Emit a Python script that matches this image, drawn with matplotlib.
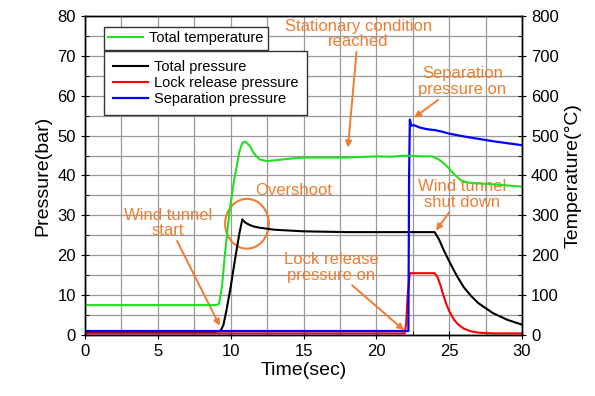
import numpy as np
import matplotlib.pyplot as plt
from matplotlib.patches import Ellipse
from matplotlib.ticker import MultipleLocator

plt.rcParams['font.family'] = ['Liberation Sans', 'DejaVu Sans']

# total pressure (bar)
t_tot = [0, 9.0, 9.3, 9.5, 9.7, 10.0, 10.3, 10.6, 10.8, 11.0, 11.3, 11.6, 12.0, 13.0, 15.0, 18.0, 20.0, 22.0, 24.0,
         24.3, 24.6, 25.0, 25.5, 26.0, 26.5, 27.0, 28.0, 29.0, 30.0]
p_tot = [0.8, 0.8, 1.0, 2.5, 6.0, 12.0, 19.0, 25.5, 29.0, 28.2, 27.6, 27.2, 26.9, 26.4, 26.0, 25.8, 25.8, 25.8, 25.8,
         24.0, 21.5, 18.5, 15.0, 12.0, 9.8, 8.0, 5.5, 3.8, 2.6]

# lock release pressure (bar)
t_lock = [0, 21.95, 22.05, 22.15, 22.3, 24.0, 24.2, 24.4, 24.6, 24.8, 25.0, 25.3, 25.6, 26.0, 26.5, 27.0, 28.0, 30.0]
p_lock = [0.4, 0.4, 3.0, 10.0, 15.5, 15.5, 14.5, 12.5, 10.0, 7.8, 6.0, 4.0, 2.7, 1.6, 0.9, 0.6, 0.4, 0.4]

# separation pressure (bar)
t_sep = [0, 22.2, 22.25, 22.3, 22.4, 22.6, 23.0, 23.5, 24.0, 24.5, 25.0, 26.0, 27.0, 28.0, 29.0, 30.0]
p_sep = [1.0, 1.0, 40.0, 54.0, 52.5, 52.6, 52.0, 51.6, 51.4, 51.0, 50.5, 49.8, 49.2, 48.6, 48.1, 47.6]

# total temperature (C)
t_temp = [0, 9.0, 9.2, 9.4, 9.6, 9.8, 10.0, 10.2, 10.4, 10.6, 10.8, 11.0, 11.3, 11.6, 12.0, 12.5, 13.0, 14.0, 15.0,
          16.0, 18.0, 20.0, 21.0, 22.0, 23.0, 23.8, 24.3, 24.8, 25.3, 25.8, 26.3, 27.0, 28.0, 29.0, 30.0]
T_temp = [75, 75, 78, 120, 200, 270, 330, 380, 420, 460, 482, 485, 475, 455, 440, 436, 438, 442, 445,
          445, 445, 448, 447, 450, 448, 448, 440, 425, 405, 388, 382, 380, 378, 375, 372]

fig = plt.figure(figsize=(5.95, 3.96), dpi=100)
ax = fig.add_axes([85/595, 1-335/396, 437/595, 319/396])
ax2 = ax.twinx()

l1, = ax.plot(t_tot, p_tot, color='black', lw=1.5, label='Total pressure')
l2, = ax.plot(t_lock, p_lock, color='#ff0000', lw=1.5, label='Lock release pressure')
l3, = ax.plot(t_sep, p_sep, color='#0000ff', lw=1.6, label='Separation pressure')
l4, = ax2.plot(t_temp, T_temp, color='#22dd22', lw=1.5, label='Total temperature')

ax.set_xlim(0, 30)
ax.set_ylim(0, 80)
ax2.set_ylim(0, 800)
ax.xaxis.set_major_locator(MultipleLocator(5))
ax.xaxis.set_minor_locator(MultipleLocator(2.5))
ax.yaxis.set_major_locator(MultipleLocator(10))
ax.yaxis.set_minor_locator(MultipleLocator(5))
ax2.yaxis.set_major_locator(MultipleLocator(100))
ax2.yaxis.set_minor_locator(MultipleLocator(50))

ax.grid(True, which='both', color='#999999', lw=0.9)
ax.set_axisbelow(True)
for a in (ax, ax2):
    a.tick_params(which='major', direction='inout', length=6, labelsize=12)
    a.tick_params(which='minor', direction='in', length=3)
    for s in a.spines.values():
        s.set_linewidth(1.0)
ax.tick_params(axis='x', which='both', top=False)

ax.set_xlabel('Time(sec)', fontsize=14, labelpad=2)
ax.set_ylabel('Pressure(bar)', fontsize=14, labelpad=4)
ax2.set_ylabel('Temperature(\u00b0C)', fontsize=14, labelpad=4)

leg1 = ax2.legend(handles=[l4], loc='upper left', bbox_to_anchor=(0.0435, 0.966), borderaxespad=0,
                  fancybox=False, edgecolor='#333333', framealpha=1, fontsize=10.5, handlelength=2.4,
                  borderpad=0.3, handletextpad=0.4)
ax2.add_artist(leg1)
ax2.legend(handles=[l1, l2, l3], loc='upper left', bbox_to_anchor=(0.0435, 0.89), borderaxespad=0,
           fancybox=False, edgecolor='#333333', framealpha=1, fontsize=10.5, handlelength=2.4,
           borderpad=0.6, handletextpad=0.4, labelspacing=0.15)

# orange notes
oc = '#ed7d31'
tkw = dict(ha='center', va='center', color=oc, fontsize=12, linespacing=1.05)
akw = dict(arrowstyle='-|>', color=oc, lw=1.4, mutation_scale=9, shrinkA=0, shrinkB=0)
ax.annotate('Stationary condition\nreached', xy=(18.05, 47), xytext=(18.75, 75.5), arrowprops=akw, **tkw)
ax.annotate('Separation\npressure on', xy=(22.6, 54.5), xytext=(25.9, 63.5), arrowprops=akw, **tkw)
ax.text(14.3, 36.3, 'Overshoot', **tkw)
ax.add_patch(Ellipse((11.12, 27.9), 3.0, 12.5, fill=False, edgecolor=oc, lw=1.5))
ax.annotate('Wind tunnel\nstart', xy=(9.25, 2.3), xytext=(5.7, 28.1), arrowprops=akw, **tkw)
ax.annotate('Lock release\npressure on', xy=(21.9, 1.2), xytext=(16.9, 17.0), arrowprops=akw, **tkw)
ax.annotate('Wind tunnel\nshut down', xy=(24.1, 26.2), xytext=(25.9, 35.3), arrowprops=akw, **tkw)

fig.savefig('out.png', dpi=100)
